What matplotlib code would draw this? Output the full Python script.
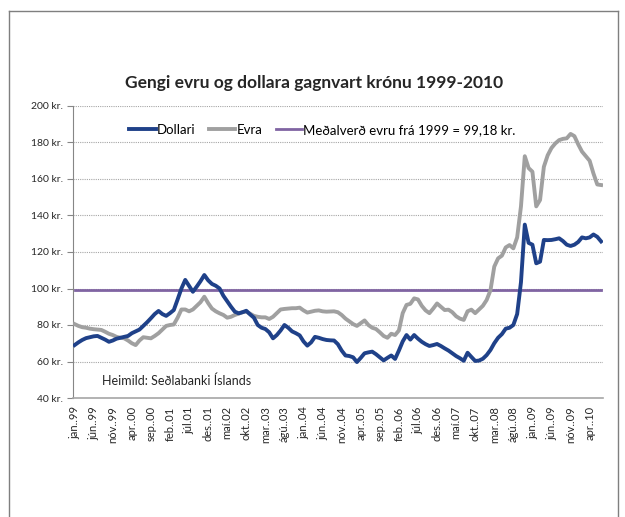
import matplotlib
matplotlib.use("Agg")
import matplotlib.pyplot as plt
import numpy as np

plt.rcParams['font.family'] = ['Lato', 'DejaVu Sans']

# Monthly data, jan 1999 - júl 2010
dollari = [69, 70.5, 71.8, 72.8, 73.3, 73.8, 74, 73, 72, 70.8,
           71.5, 72.5, 73, 73.5, 74, 75.5, 76.5, 77.5, 79.5, 81.5,
           83.7, 86, 87.7, 86, 85, 86.5, 88.2, 94, 100, 104.7,
           101.5, 98.2, 101, 104, 107.4, 104.5, 102.5, 101.5, 100, 96,
           93, 90, 87.3, 86.4, 87, 87.8, 85.8, 84, 80, 78.5,
           77.8, 76, 72.7, 74.5, 77, 80, 78.5, 76.5, 75.5, 74.3,
           71, 68.7, 70.5, 73.5, 73, 72.3, 71.8, 71.6, 71.5, 69.5,
           66, 63.3, 63, 62.3, 59.7, 62, 64.5, 65, 65.4, 64,
           62.3, 60.6, 62, 63.3, 61.4, 66, 71, 74.5, 72, 74.5,
           72.5, 70.8, 69.5, 68.5, 69, 69.6, 68.5, 67.2, 66, 64.5,
           63, 61.8, 60.4, 64.8, 62.5, 60.3, 60.5, 61.5, 63.5, 66.3,
           70, 73, 75, 78, 78.5, 80, 86, 103.5, 135, 125,
           124, 113.8, 114.7, 126.6, 126.5, 126.6, 127, 127.5, 126, 124,
           123.3, 124, 125.5, 128, 127.5, 128, 129.6, 128.3, 125.8]

evra = [80.5, 79.5, 78.8, 78.5, 78, 77.7, 77.5, 77.3, 76.3, 75.2,
        74.5, 73.5, 73, 72.7, 71.5, 70, 69, 71.5, 73.3, 73,
        72.7, 74, 75.5, 77.5, 79.5, 80, 80.3, 84, 88.5, 88.5,
        87.5, 88.5, 90.5, 92.5, 95.5, 92, 89, 87.5, 86.4, 85.5,
        84, 84.5, 85.5, 86.2, 87, 87.3, 86.2, 85, 84.5, 84.2,
        84.2, 83.3, 84.5, 86.5, 88.5, 88.8, 89, 89.2, 89.2, 89.5,
        88, 86.8, 87.3, 87.8, 88, 87.5, 87.3, 87.4, 87.5, 87,
        85.5, 83.5, 82, 80.5, 79.5, 81, 82.5, 80, 78.5, 77.8,
        76, 74, 73, 75.2, 74.5, 77, 86.5, 91, 91.6, 94.6,
        94, 90.5, 88, 86.5, 89, 91.8, 90, 88.2, 88.4, 87,
        84.8, 83.5, 82.8, 87.5, 88.4, 86.5, 88.5, 90.5, 93.7, 99,
        112, 116.5, 118, 122.5, 123.8, 122, 128, 145, 172.5, 166,
        164, 145, 148.5, 166.7, 173, 177, 179.5, 181.3, 182, 182.3,
        184.7, 183.5, 179, 175, 172.5, 170, 163, 157, 156.7]

medalverd = 99.18

tick_labels = ["jan..99", "jún..99", "nóv..99", "apr..00", "sep..00", "feb..01",
               "júl.01", "des..01", "maí.02", "okt..02", "mar..03", "ágú..03",
               "jan..04", "jún..04", "nóv..04", "apr..05", "sep..05", "feb..06",
               "júl.06", "des..06", "maí.07", "okt..07", "mar..08", "ágú..08",
               "jan..09", "jún..09", "nóv..09", "apr..10"]
tick_step = 5

n = len(dollari)
x = np.arange(n)

fig = plt.figure(figsize=(6.25, 5.17), dpi=100)
# outer chart frame
frame_col = '#7f7f7f'
fig.add_artist(plt.Line2D([9/625, 618/625], [1-11/517, 1-11/517], color=frame_col, lw=1.0, transform=fig.transFigure))
fig.add_artist(plt.Line2D([9/625, 9/625], [0, 1-11/517], color=frame_col, lw=1.0, transform=fig.transFigure))
fig.add_artist(plt.Line2D([618/625, 618/625], [0, 1-11/517], color=frame_col, lw=1.0, transform=fig.transFigure))

ax = fig.add_axes([72.7/625, 1-398/517, (603-72.7)/625, (398-106)/517])

blue = '#1f4189'
grey = '#a0a0a0'
purple = '#8064a2'

ax.plot(x, np.full(n, medalverd), color=purple, lw=2.0, zorder=2,
        label='Meðalverð evru frá 1999 = 99,18 kr.')
l1, = ax.plot(x, dollari, color=blue, lw=2.8, zorder=4, label='Dollari', solid_joinstyle='round')
l2, = ax.plot(x, evra, color=grey, lw=2.8, zorder=3, label='Evra', solid_joinstyle='round')

ax.set_xlim(-0.5, n - 0.5)
ax.set_ylim(40, 200)
yt = np.arange(40, 201, 20)
ax.set_yticks(yt)
ax.set_yticklabels([f"{v} kr." for v in yt], fontsize=7.5, color='#262626')
for v in yt[1:]:
    ax.axhline(v, color='#a6a6a6', lw=0.8, ls=(0, (1, 1)), zorder=1)

ax.set_xticks(np.arange(0, n, tick_step)[:len(tick_labels)])
ax.set_xticklabels(tick_labels, rotation=90, fontsize=8, color='#262626')
ax.tick_params(axis='x', length=0, pad=6)
ax.tick_params(axis='y', length=4, color='#868686', width=0.8, pad=3)

for s in ['top', 'right']:
    ax.spines[s].set_visible(False)
ax.spines['left'].set_color('#868686')
ax.spines['bottom'].set_color('#a6a6a6')
ax.spines['left'].set_linewidth(0.8)
ax.spines['bottom'].set_linewidth(1.2)

handles, labels = ax.get_legend_handles_labels()
order = [1, 2, 0]
leg = ax.legend([handles[i] for i in order], [labels[i] for i in order],
                loc='center', bbox_to_anchor=(0.471, 0.918), ncol=3, frameon=False,
                fontsize=9.5, handlelength=2.0, handletextpad=0.1, columnspacing=1.0)

ax.text(0.055, 0.06, 'Heimild: Seðlabanki Íslands', transform=ax.transAxes,
        fontsize=9, color='#262626', va='center', ha='left')

fig.text(314/625, 1-83/517, 'Gengi evru og dollara gagnvart krónu 1999-2010',
         ha='center', va='center', fontsize=12.5, fontweight='bold', color='#262626')

fig.savefig('out.png', dpi=100)
